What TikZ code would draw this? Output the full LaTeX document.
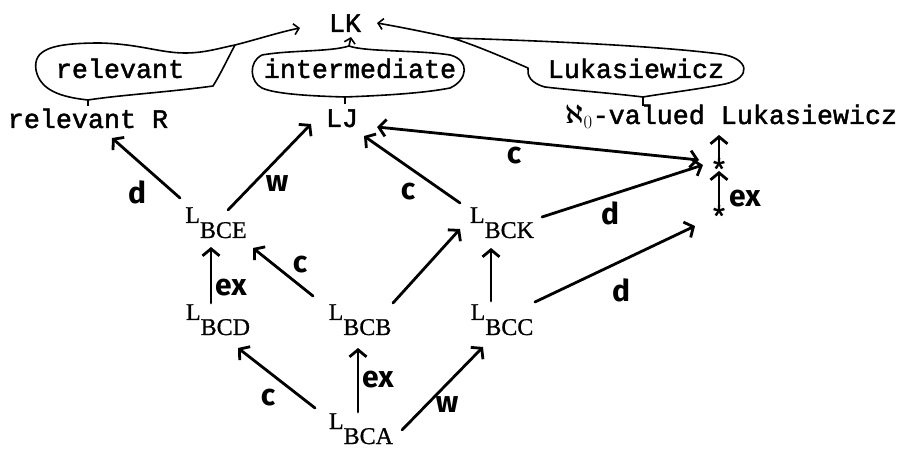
\RequirePackage{fix-cm}
\documentclass[tikz,border=0pt]{standalone}
\usepackage{amsmath}
\usepackage{fontspec}
\usetikzlibrary{arrows.meta}
\newfontfamily\tw[FakeBold=1.6]{Liberation Mono}
\newfontfamily\sr[FakeBold=0.8]{Liberation Serif}
\newfontfamily\hw{Fira Sans}
\newcommand{\Lb}[1]{L\raisebox{-15pt}{#1}}
\begin{document}
\begin{tikzpicture}[x=1pt,y=-1pt,
 tt/.style={font=\tw\fontsize{26.7}{30}\selectfont, inner sep=0pt, anchor=base},
 lnode/.style={font=\sr\fontsize{24}{28}\selectfont, inner sep=0pt, anchor=base},
 lab/.style={font=\hw\bfseries\fontsize{30}{30}\selectfont, inner sep=0pt},
 star/.style={font=\tw\fontsize{30}{30}\selectfont, inner sep=1pt},
 arr/.style={line width=2.8pt, line cap=round, -{Straight Barb[length=7pt,width=17pt]}},
 darr/.style={line width=2.8pt, line cap=round, {Straight Barb[length=7pt,width=17pt]}-{Straight Barb[length=7pt,width=17pt]}},
 bub/.style={line width=1.6pt, line join=round},
 bubarr/.style={bub, -{Straight Barb[length=5pt,width=11pt]}}]
\useasboundingbox (0,0) rectangle (906,449);

% text nodes
\node[tt] (LK) at (345,32) {LK};
\node[tt] (R) at (88,128) {relevant R};
\node[tt] (LJ) at (342,127) {LJ};
\node[tt] (trel) at (120,78) {relevant};
\node[tt] (tint) at (360,78) {intermediate};
\node[tt] (tluk) at (636,78) {Lukasiewicz};
\node[tt] (AL) at (731,124) {$\boldsymbol{\aleph}_0$-valued Lukasiewicz};

\node[lnode] (BCE) at (216,223) {\Lb{BCE}};
\node[lnode] (BCK) at (502,223) {\Lb{BCK}};
\node[lnode] (BCD) at (218,320) {\Lb{BCD}};
\node[lnode] (BCB) at (360,320) {\Lb{BCB}};
\node[lnode] (BCC) at (502,320) {\Lb{BCC}};
\node[lnode] (BCA) at (361,429) {\Lb{BCA}};

\node[star] (su) at (719,165) {\smash{\raisebox{-0.5em}{*}}};
\node[star] (sl) at (719,212) {\smash{\raisebox{-0.5em}{*}}};

% arrows
\draw[arr] ([shift={(-36,-25)}]BCE.base) -- ([shift={(24,10)}]R.base);
\draw[arr] ([shift={(12,-13)}]BCE.base) -- ([shift={(-31,-3)}]LJ.base);
\draw[arr] ([shift={(-42,-20)}]BCK.base) -- ([shift={(22,9)}]LJ.base);
\draw[darr] ([shift={(35,0)}]LJ.base) -- ([shift={(-20,-5)}]su.center);
\draw[arr] ([shift={(40,-6)}]BCK.base) -- ([shift={(-16,0)}]su.center);
\draw[arr] ([shift={(33,-18)}]BCC.base) -- ([shift={(-24,14)}]sl.center);
\draw[arr] ([shift={(0,-5)}]sl.center) -- ([shift={(0,6)}]su.center);
\draw[arr] ([shift={(0,-6)}]su.center) -- ([shift={(-12,11)}]AL.base);
\draw[arr] ([shift={(-7,-17)}]BCD.base) -- ([shift={(-5,24)}]BCE.base);
\draw[arr] ([shift={(-47,-24)}]BCB.base) -- ([shift={(37,25)}]BCE.base);
\draw[arr] ([shift={(33,-17)}]BCB.base) -- ([shift={(-42,6)}]BCK.base);
\draw[arr] ([shift={(-11,-19)}]BCC.base) -- ([shift={(-11,25)}]BCK.base);
\draw[arr] ([shift={(-46,-21)}]BCA.base) -- ([shift={(20,28)}]BCD.base);
\draw[arr] ([shift={(-3,-17)}]BCA.base) -- ([shift={(-2,28)}]BCB.base);
\draw[arr] ([shift={(41,1)}]BCA.base) -- ([shift={(-19,27)}]BCC.base);

% labels
\node[lab] (l1) at (137,192) {d};
\node[lab] (l2) at (277,184) {w};
\node[lab] (l3) at (408,192) {c};
\node[lab] (l4) at (514,156) {c};
\node[lab] (l5) at (610,213) {d};
\node[lab] (l6) at (745,199) {ex};
\node[lab] (l7) at (621,290) {d};
\node[lab] (l8) at (231,288) {ex};
\node[lab] (l9) at (300,265) {c};
\node[lab] (l10) at (268,398) {c};
\node[lab] (l11) at (378,380) {ex};
\node[lab] (l12) at (447,405) {w};

% bubbles
\draw[bub] (88,106) -- (88,100) .. controls (60,97) and (40,90) .. (36,70)
  .. controls (33,50) and (50,43) .. (100,43) .. controls (140,44) and (160,53) .. (185,53)
  .. controls (205,53) and (220,48) .. (235,45) .. controls (227,60) and (220,75) .. (213,86)
  .. controls (170,92) and (120,95) .. (88,100);
\draw[bubarr] (235,45) .. controls (255,40) and (280,32) .. ([shift={(-45,-4)}]LK.base);

\draw[bub] (345,104) -- (345,97) .. controls (310,96) and (275,94) .. (262,88)
  .. controls (250,82) and (248,62) .. (262,55) .. controls (290,50) and (330,52) .. (349,46)
  .. controls (365,52) and (420,50) .. (450,55) .. controls (470,60) and (468,80) .. (450,88)
  .. controls (420,94) and (370,96) .. (345,97);
\draw[bubarr] (349,46) -- ([shift={(6,5)}]LK.base);

\draw[bub] (643,106) -- (643,97) .. controls (610,93) and (570,90) .. (545,87)
  .. controls (530,83) and (527,75) .. (528,68) .. controls (505,58) and (475,45) .. (452,38)
  .. controls (520,40) and (650,45) .. (720,54) .. controls (750,58) and (752,78) .. (725,84)
  .. controls (700,89) and (660,94) .. (643,97);
\draw[bubarr] (452,38) .. controls (430,33) and (400,27) .. ([shift={(32,-9)}]LK.base);
\end{tikzpicture}
\end{document}
